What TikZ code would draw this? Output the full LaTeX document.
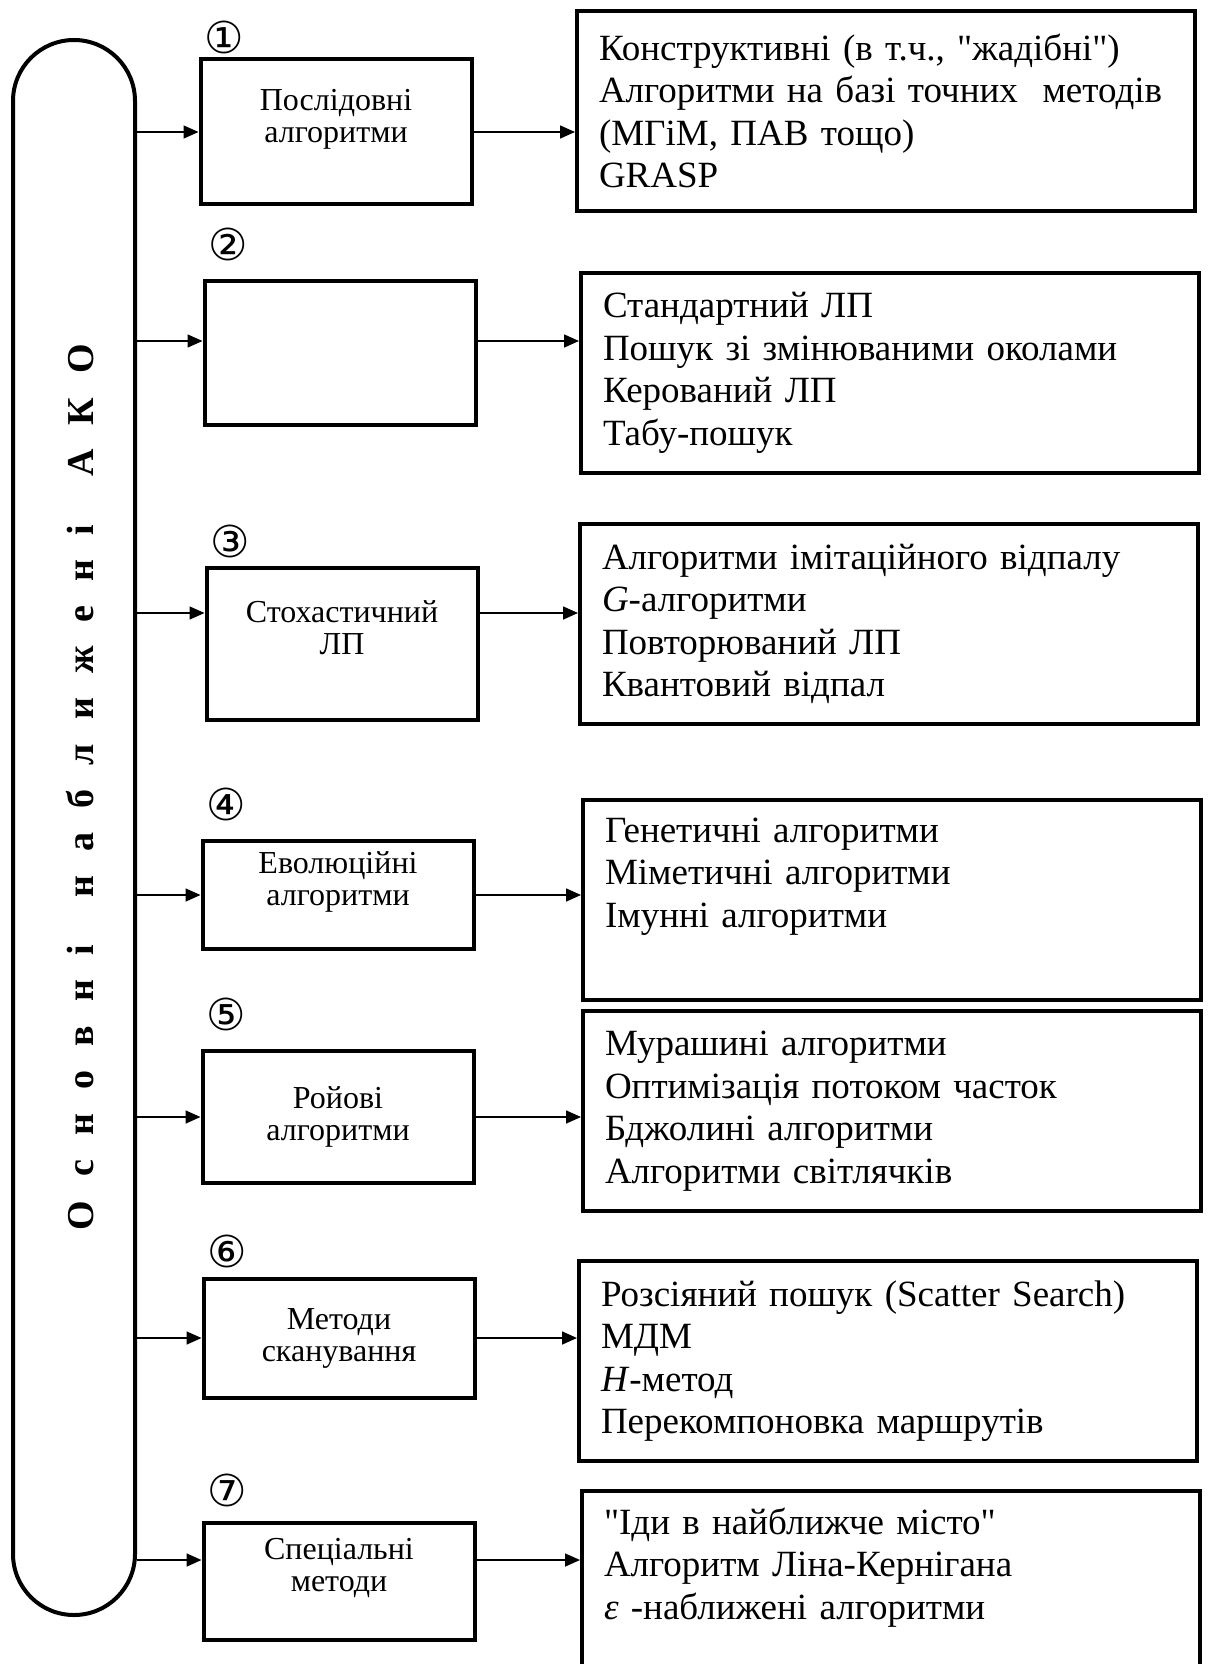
\documentclass[tikz,border=0pt]{standalone}
\usepackage{fontspec}
\setmainfont[Ligatures=TeXOff]{Liberation Serif}
\newfontfamily\circfont{DejaVu Sans}
\usetikzlibrary{positioning,arrows.meta}

\begin{document}
\begin{tikzpicture}[x=0.5pt,y=-0.5pt,
    >={Triangle[length=7.5pt,width=6.5pt]},
    grp/.style={draw=black,line width=2pt,minimum width=135.5pt,
      align=center,font=\fontsize{16}{16}\selectfont},
    lst/.style={draw=black,line width=2pt,text width=287pt,inner xsep=11pt,
      minimum height=100pt,align=left,
      font=\fontsize{18.5}{21.25}\selectfont},
    num/.style={inner sep=0pt,font=\circfont\fontsize{22}{22}\selectfont},
    dep/.style={line width=0.8pt,->}
  ]
  \useasboundingbox (0,0) rectangle (1210,1664);
  % the common frame on the left
  \node[draw=black,line width=2pt,rounded corners=30.5pt,
    minimum width=61pt,minimum height=787.5pt] (ako) at (74,827.5) {};
  \node[rotate=90,font=\bfseries\fontsize{19}{19}\selectfont] (title)
    at (80,787)
    {\makebox[443pt]{О\hfill с\hfill н\hfill о\hfill в\hfill н\hfill
      і\hfill\hfill н\hfill а\hfill б\hfill л\hfill и\hfill ж\hfill
      е\hfill н\hfill і\hfill\hfill А\hfill К\hfill О}};
  % groups of methods
  \node[grp,minimum height=72.5pt] (seq) at (336,132)
    {Послідовні\\алгоритми\\\mbox{}};
  \node[grp,minimum height=72pt] (loc) at (340,353) {};
  \node[grp,minimum height=76pt] (sto) at (342,644)
    {Стохастичний\\ЛП\\\mbox{}};
  \node[grp,minimum height=54pt] (evo) at (338,895)
    {Еволюційні\\алгоритми\\\mbox{}};
  \node[grp,minimum height=66pt] (swm) at (338,1117)
    {Ройові\\алгоритми};
  \node[grp,minimum height=59.5pt] (scn) at (339,1338)
    {Методи\\сканування};
  \node[grp,minimum height=58.5pt] (spc) at (339,1581)
    {Спеціальні\\методи\\\mbox{}};
  % numbers over the groups
  \node[num,above right=1.5pt and 3pt of seq.north west] (n1) {①};
  \node[num,above right=9pt and 3pt of loc.north west] (n2) {②};
  \node[num,above right=4pt and 3pt of sto.north west] (n3) {③};
  \node[num,above right=9pt and 3pt of evo.north west] (n4) {④};
  \node[num,above right=9pt and 3pt of swm.north west] (n5) {⑤};
  \node[num,above right=4pt and 3pt of scn.north west] (n6) {⑥};
  \node[num,above right=6.5pt and 3pt of spc.north west] (n7) {⑦};
  % lists of algorithms
  \node[lst] (seqL) at (886,111)
    {Конструктивні (в т.ч., "жадібні")\\
     Алгоритми на базі точних\ \ методів\\
     (МГіМ, ПАВ тощо)\\
     GRASP};
  \node[lst] (locL) at (890,373)
    {Стандартний ЛП\\
     Пошук зі змінюваними околами\\
     Керований ЛП\\
     Табу-пошук};
  \node[lst] (stoL) at (889,624)
    {Алгоритми імітаційного відпалу\\
     \textit{G}-алгоритми\\
     Повторюваний ЛП\\
     Квантовий відпал};
  \node[lst] (evoL) at (892,900)
    {Генетичні алгоритми\\
     Міметичні алгоритми\\
     Імунні алгоритми\\
     \strut};
  \node[lst] (swmL) at (892,1111)
    {Мурашині алгоритми\\
     Оптимізація потоком часток\\
     Бджолині алгоритми\\
     Алгоритми світлячків};
  \node[lst] (scnL) at (888,1361)
    {Розсіяний пошук (Scatter Search)\\
     МДМ\\
     \textit{H}-метод\\
     Перекомпоновка маршрутів};
  \node[lst] (spcL) at (891,1591)
    {"Іди в найближче місто"\\
     Алгоритм Ліна-Кернігана\\
     {\itshape ε} -наближені алгоритми\\
     \strut};
  % points where the links meet the groups
  \coordinate (a2) at ([yshift=6pt]loc.west);
  \coordinate (b2) at ([yshift=6pt]loc.east);
  \coordinate (a3) at ([yshift=15.5pt]sto.west);
  \coordinate (b3) at ([yshift=15.5pt]sto.east);
  \coordinate (a7) at ([yshift=10.5pt]spc.west);
  \coordinate (b7) at ([yshift=10.5pt]spc.east);
  % links
  \draw[dep] (ako.east |- seq.west) -- (seq.west);
  \draw[dep] (ako.east |- a2) -- (a2);
  \draw[dep] (ako.east |- a3) -- (a3);
  \draw[dep] (ako.east |- evo.west) -- (evo.west);
  \draw[dep] (ako.east |- swm.west) -- (swm.west);
  \draw[dep] (ako.east |- scn.west) -- (scn.west);
  \draw[dep] (ako.east |- a7) -- (a7);
  \draw[dep] (seq.east) -- (seq.east -| seqL.west);
  \draw[dep] (b2) -- (b2 -| locL.west);
  \draw[dep] (b3) -- (b3 -| stoL.west);
  \draw[dep] (evo.east) -- (evo.east -| evoL.west);
  \draw[dep] (swm.east) -- (swm.east -| swmL.west);
  \draw[dep] (scn.east) -- (scn.east -| scnL.west);
  \draw[dep] (b7) -- (b7 -| spcL.west);
\end{tikzpicture}
\end{document}
